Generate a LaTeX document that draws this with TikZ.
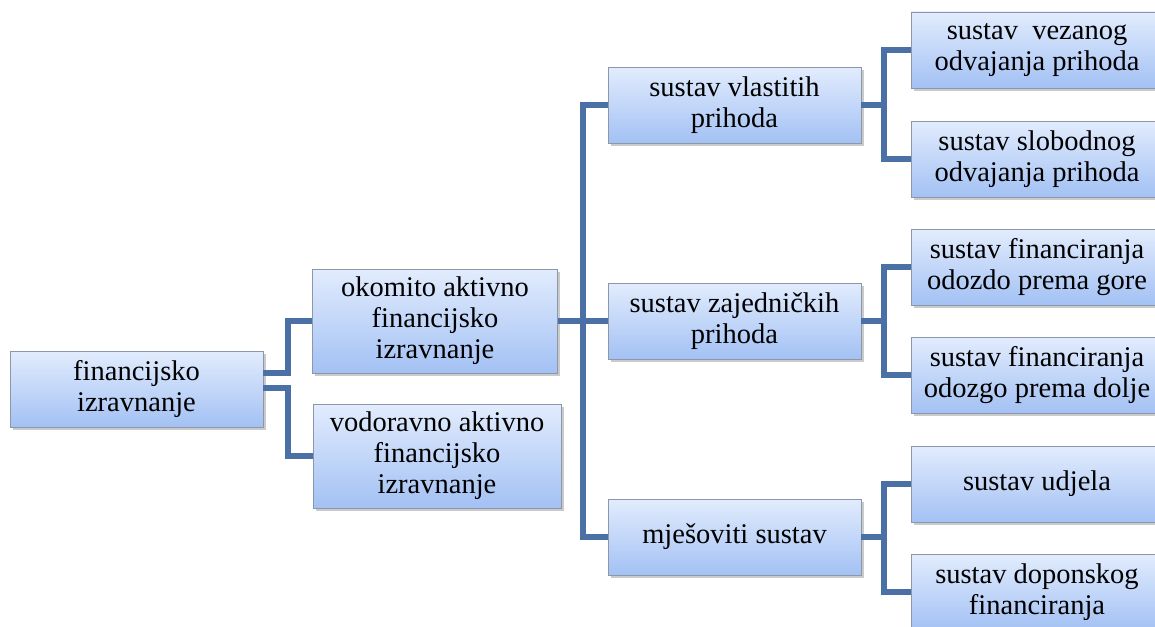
\documentclass[tikz,border=0pt]{standalone}
\usepackage{fontspec}
\setmainfont{Liberation Serif}
\usetikzlibrary{shadows}
\definecolor{linec}{HTML}{4A70A5}
\definecolor{boxtop}{HTML}{E2ECFD}
\definecolor{boxbot}{HTML}{A3C1F4}
\definecolor{boxedge}{HTML}{8C97AA}
\tikzset{
  box/.style={rectangle, draw=boxedge, line width=0.8pt, top color=boxtop, bottom color=boxbot,
    align=center, inner sep=2pt, font=\fontsize{28.5}{31}\selectfont,
    drop shadow={shadow xshift=2.5pt, shadow yshift=-3pt, opacity=0.35, fill=black!60}},
  conn/.style={draw=linec, line width=5.5pt, line join=miter},
}
\begin{document}
\begin{tikzpicture}[x=1pt,y=-1pt]
\useasboundingbox (0,0) rectangle (1155,626);
\clip (0,0) rectangle (1155,626);
% nodes
\node[box, minimum width=253pt, minimum height=76pt] (root) at (136.5,389) {financijsko\\izravnanje};
\node[box, minimum width=245pt, minimum height=104pt] (ok) at (435,321) {okomito aktivno\\financijsko\\izravnanje};
\node[box, minimum width=248pt, minimum height=104pt] (vo) at (437,456) {vodoravno aktivno\\financijsko\\izravnanje};
\node[box, minimum width=253pt, minimum height=76pt] (vl) at (734.5,105) {sustav vlastitih\\prihoda};
\node[box, minimum width=253pt, minimum height=76pt] (za) at (734.5,321) {sustav zajedničkih\\prihoda};
\node[box, minimum width=253pt, minimum height=76pt] (mj) at (734.5,537) {mješoviti sustav};
\node[box, minimum width=252pt, minimum height=76pt] (ve) at (1037,50) {sustav\ \ vezanog\\odvajanja prihoda};
\node[box, minimum width=252pt, minimum height=76pt] (sl) at (1037,159) {sustav slobodnog\\odvajanja prihoda};
\node[box, minimum width=252pt, minimum height=76pt] (od) at (1037,267) {sustav financiranja\\odozdo prema gore};
\node[box, minimum width=252pt, minimum height=76pt] (og) at (1037,375) {sustav financiranja\\odozgo prema dolje};
\node[box, minimum width=252pt, minimum height=76pt] (ud) at (1037,484) {sustav udjela};
\node[box, minimum width=252pt, minimum height=76pt] (do) at (1037,592) {sustav doponskog\\financiranja};
% connectors
\draw[conn] (root.east |- 0,373) -| (288,321) -- (ok.west);
\draw[conn] (root.east |- 0,388) -| (288,456) -- (vo.west);
\draw[conn] (ok.east) -- (583,321);
\draw[conn] (vl.west) -| (583,537) -- (mj.west);
\draw[conn] (583,321) -- (za.west);
\draw[conn] (vl.east) -- (884,105);
\draw[conn] (ve.west) -| (884,159) -- (sl.west);
\draw[conn] (za.east) -- (884,321);
\draw[conn] (od.west) -| (884,375) -- (og.west);
\draw[conn] (mj.east) -- (884,537);
\draw[conn] (ud.west) -| (884,592) -- (do.west);
\end{tikzpicture}
\end{document}
